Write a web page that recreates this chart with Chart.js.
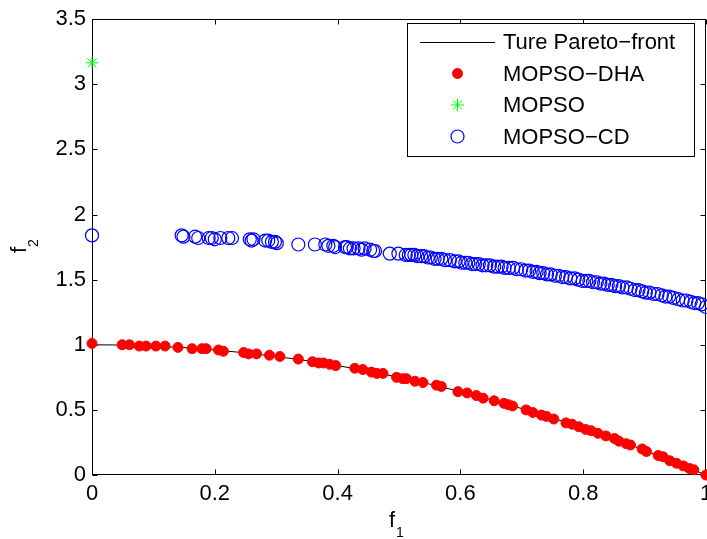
<!DOCTYPE html>
<html>
<head>
<meta charset="utf-8">
<script src="https://cdn.jsdelivr.net/npm/chart.js@4.4.0/dist/chart.umd.min.js"></script>
<style>
  html, body { margin: 0; padding: 0; background: #fff; overflow: hidden; }
  #wrap { position: absolute; left: 0; top: 0; width: 760px; height: 539px; }
</style>
</head>
<body>
<div id="wrap"><canvas id="c" width="760" height="539"></canvas></div>
<script>
// ---------- data ----------
const seriesNames = ['Ture Pareto\u2212front', 'MOPSO\u2212DHA', 'MOPSO', 'MOPSO\u2212CD'];

const paretoX = [0, 0.05, 0.1, 0.15, 0.2, 0.25, 0.3, 0.35, 0.4, 0.45, 0.5, 0.55, 0.6, 0.65, 0.7, 0.75, 0.8, 0.85, 0.9, 0.95, 1];
const paretoY = [1, 0.998, 0.99, 0.978, 0.96, 0.938, 0.91, 0.878, 0.84, 0.798, 0.75, 0.698, 0.64, 0.578, 0.51, 0.438, 0.36, 0.278, 0.19, 0.098, 0];

const dhaX = [0.000, 0.049, 0.061, 0.077, 0.088, 0.104, 0.119, 0.140, 0.163, 0.179, 0.186, 0.206, 0.214, 0.247, 0.255, 0.268, 0.289, 0.306, 0.336, 0.359, 0.369, 0.377, 0.387, 0.397, 0.428, 0.441, 0.455, 0.464, 0.474, 0.496, 0.506, 0.512, 0.526, 0.539, 0.561, 0.569, 0.596, 0.611, 0.626, 0.637, 0.655, 0.671, 0.678, 0.685, 0.707, 0.718, 0.732, 0.740, 0.752, 0.772, 0.782, 0.793, 0.804, 0.813, 0.824, 0.837, 0.851, 0.858, 0.870, 0.877, 0.896, 0.903, 0.922, 0.930, 0.941, 0.952, 0.963, 0.973, 0.980, 1.000];
const dhaY = [1.01, 1.00, 1.00, 0.99, 0.99, 0.99, 0.99, 0.98, 0.97, 0.97, 0.97, 0.96, 0.95, 0.94, 0.93, 0.93, 0.92, 0.91, 0.89, 0.87, 0.86, 0.86, 0.85, 0.84, 0.82, 0.81, 0.79, 0.78, 0.78, 0.75, 0.74, 0.74, 0.72, 0.71, 0.69, 0.68, 0.64, 0.63, 0.61, 0.59, 0.57, 0.55, 0.54, 0.53, 0.50, 0.48, 0.46, 0.45, 0.43, 0.40, 0.39, 0.37, 0.35, 0.34, 0.32, 0.30, 0.28, 0.26, 0.24, 0.23, 0.20, 0.18, 0.15, 0.14, 0.11, 0.09, 0.07, 0.05, 0.04, 0.00];

const mopsoX = [0];
const mopsoY = [3.165];

const cdX = [0.000, 0.146, 0.149, 0.168, 0.173, 0.190, 0.195, 0.200, 0.209, 0.222, 0.228, 0.257, 0.260, 0.263, 0.282, 0.287, 0.293, 0.298, 0.301, 0.336, 0.363, 0.380, 0.385, 0.393, 0.396, 0.412, 0.415, 0.420, 0.426, 0.434, 0.439, 0.444, 0.453, 0.458, 0.461, 0.485, 0.499,
  0.511, 0.516, 0.520, 0.525, 0.530, 0.536, 0.541, 0.547, 0.552, 0.558, 0.563, 0.569, 0.575, 0.583, 0.591, 0.597, 0.602, 0.608, 0.613, 0.619, 0.624, 0.630, 0.636, 0.642, 0.648, 0.655, 0.661, 0.667, 0.672, 0.679, 0.686, 0.692, 0.699, 0.706, 0.712, 0.718, 0.724, 0.729, 0.735, 0.741, 0.747, 0.754, 0.760, 0.766, 0.772, 0.779, 0.786, 0.792, 0.799, 0.805, 0.810, 0.816, 0.822, 0.828, 0.834, 0.840, 0.846, 0.852, 0.858, 0.864, 0.871, 0.877, 0.884, 0.890, 0.896, 0.902, 0.908, 0.915, 0.921, 0.928, 0.934, 0.940, 0.947, 0.955, 0.962, 0.968, 0.975, 0.981, 0.987, 0.993, 1.000];
const cdY = [1.84, 1.84, 1.83, 1.83, 1.82, 1.82, 1.82, 1.81, 1.82, 1.82, 1.82, 1.81, 1.80, 1.81, 1.80, 1.80, 1.79, 1.79, 1.78, 1.77, 1.77, 1.77, 1.76, 1.76, 1.75, 1.75, 1.75, 1.74, 1.74, 1.74, 1.73, 1.74, 1.73, 1.72, 1.72, 1.70, 1.70,
  1.69, 1.69, 1.69, 1.69, 1.68, 1.68, 1.68, 1.67, 1.67, 1.66, 1.66, 1.66, 1.65, 1.65, 1.64, 1.64, 1.63, 1.63, 1.63, 1.62, 1.62, 1.62, 1.61, 1.61, 1.61, 1.60, 1.60, 1.60, 1.59, 1.59, 1.59, 1.58, 1.58, 1.57, 1.57, 1.56, 1.56, 1.55, 1.55, 1.54, 1.54, 1.53, 1.53, 1.52, 1.52, 1.51, 1.51, 1.50, 1.49, 1.49, 1.49, 1.48, 1.48, 1.47, 1.47, 1.46, 1.46, 1.45, 1.45, 1.44, 1.44, 1.43, 1.42, 1.42, 1.41, 1.40, 1.40, 1.39, 1.39, 1.38, 1.37, 1.37, 1.36, 1.35, 1.34, 1.34, 1.33, 1.32, 1.32, 1.31, 1.29];

const xTicks = [0, 0.2, 0.4, 0.6, 0.8, 1];
const xTickLabels = ['0', '0.2', '0.4', '0.6', '0.8', '1'];
const yTicks = [0, 0.5, 1, 1.5, 2, 2.5, 3, 3.5];
const yTickLabels = ['0', '0.5', '1', '1.5', '2', '2.5', '3', '3.5'];

// ---------- helpers ----------
const toPts = (xs, ys) => xs.map((x, i) => ({ x: x, y: ys[i] }));
const FONT = '"Liberation Sans", Arial, Helvetica, sans-serif';

const matlabPlugin = {
  id: 'matlab',
  beforeDatasetsDraw(chart) {
    const { ctx, chartArea: a, scales } = chart;
    ctx.save();
    ctx.strokeStyle = '#000';
    ctx.lineWidth = 1;
    const L = Math.round(a.left) + 0.5, R = Math.round(a.right) - 0.5;
    const T = Math.round(a.top) + 0.5, B = Math.round(a.bottom) - 0.5;
    ctx.strokeRect(L, T, R - L, B - T);
    ctx.beginPath();
    xTicks.forEach(v => {
      const px = Math.round(scales.x.getPixelForValue(v)) + 0.5;
      ctx.moveTo(px, B); ctx.lineTo(px, B - 5);
      ctx.moveTo(px, T); ctx.lineTo(px, T + 5);
    });
    yTicks.forEach(v => {
      const py = Math.round(scales.y.getPixelForValue(v)) + 0.5;
      ctx.moveTo(L, py); ctx.lineTo(L + 5, py);
      ctx.moveTo(R, py); ctx.lineTo(R - 5, py);
    });
    ctx.stroke();
    ctx.restore();
  },
  afterDraw(chart) {
    const { ctx } = chart;
    ctx.save();
    ctx.fillStyle = '#000';
    // axis labels with subscripts
    ctx.textBaseline = 'alphabetic';
    ctx.textAlign = 'left';
    ctx.font = '22px ' + FONT;
    ctx.fillText('f', 389, 527);
    ctx.font = '14px ' + FONT;
    ctx.fillText('1', 396, 537);
    ctx.save();
    ctx.translate(26, 253);
    ctx.rotate(-Math.PI / 2);
    ctx.font = '22px ' + FONT;
    ctx.fillText('f', 0, 0);
    ctx.font = '14px ' + FONT;
    ctx.fillText('2', 6, 12);
    ctx.restore();

    // legend
    const bx = 407, by = 23, bw = 287, bh = 133;
    ctx.fillStyle = '#fff';
    ctx.fillRect(bx, by, bw, bh);
    ctx.strokeStyle = '#000';
    ctx.lineWidth = 1;
    ctx.strokeRect(bx + 0.5, by + 0.5, bw, bh);
    const rows = [42, 73.5, 105, 136.5];
    chart.data.datasets.forEach((ds, i) => {
      const y = rows[i];
      if (i === 0) {
        ctx.strokeStyle = ds.borderColor;
        ctx.lineWidth = 1;
        ctx.beginPath();
        ctx.moveTo(420, Math.round(y) + 0.5);
        ctx.lineTo(495, Math.round(y) + 0.5);
        ctx.stroke();
      } else {
        ctx.fillStyle = ds.backgroundColor;
        ctx.strokeStyle = ds.borderColor;
        ctx.lineWidth = ds.borderWidth;
        Chart.helpers.drawPoint(ctx, {
          pointStyle: ds.pointStyle,
          radius: ds.pointRadius,
          borderWidth: ds.borderWidth,
          rotation: 0
        }, 457.5, y);
      }
      ctx.fillStyle = '#000';
      ctx.font = '22px ' + FONT;
      ctx.textBaseline = 'middle';
      ctx.textAlign = 'left';
      ctx.fillText(seriesNames[i], 503, y + 1);
    });
    ctx.restore();
  }
};

const chart = new Chart(document.getElementById('c'), {
  type: 'scatter',
  data: {
    datasets: [
      {
        label: seriesNames[0],
        type: 'line',
        data: toPts(paretoX, paretoY),
        borderColor: '#000',
        backgroundColor: '#000',
        borderWidth: 1,
        pointRadius: 0,
        tension: 0,
        fill: false,
        clip: false,
        order: 10
      },
      {
        label: seriesNames[1],
        data: toPts(dhaX, dhaY),
        pointStyle: 'circle',
        pointRadius: 5,
        backgroundColor: '#ff0000',
        borderColor: '#ff0000',
        borderWidth: 1,
        clip: false,
        order: 3
      },
      {
        label: seriesNames[2],
        data: toPts(mopsoX, mopsoY),
        pointStyle: 'star',
        pointRadius: 6.5,
        backgroundColor: '#00ff00',
        borderColor: '#00ff00',
        borderWidth: 1,
        clip: false,
        order: 2
      },
      {
        label: seriesNames[3],
        data: toPts(cdX, cdY),
        pointStyle: 'circle',
        pointRadius: 6.5,
        backgroundColor: 'rgba(0,0,0,0)',
        borderColor: '#0000ff',
        borderWidth: 1.2,
        clip: false,
        order: 1
      }
    ]
  },
  options: {
    responsive: false,
    animation: false,
    devicePixelRatio: 1,
    layout: { padding: { left: 0, top: 15, right: 54, bottom: 0 } },
    plugins: { legend: { display: false }, tooltip: { enabled: false } },
    scales: {
      x: {
        type: 'linear',
        min: 0, max: 1,
        afterBuildTicks: s => { s.ticks = xTicks.map(v => ({ value: v })); },
        afterFit: s => { s.height = 64; },
        grid: { display: false, drawTicks: false },
        border: { display: false },
        ticks: {
          color: '#000',
          font: { family: FONT, size: 22 },
          padding: 6,
          maxRotation: 0,
          autoSkip: false,
          callback: (v) => xTickLabels[xTicks.indexOf(v)]
        }
      },
      y: {
        type: 'linear',
        min: 0, max: 3.5,
        afterBuildTicks: s => { s.ticks = yTicks.map(v => ({ value: v })); },
        afterFit: s => { s.width = 92; },
        grid: { display: false, drawTicks: false },
        border: { display: false },
        ticks: {
          color: '#000',
          font: { family: FONT, size: 22 },
          padding: 6,
          autoSkip: false,
          callback: (v) => yTickLabels[yTicks.indexOf(v)]
        }
      }
    }
  },
  plugins: [matlabPlugin]
});
</script>
</body>
</html>
